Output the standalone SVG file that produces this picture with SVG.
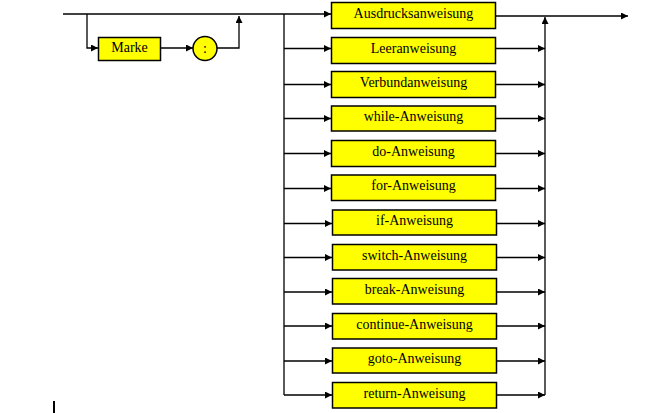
<svg xmlns="http://www.w3.org/2000/svg" width="658" height="413" viewBox="0 0 658 413">
<style>
.box{fill:#ffff00;stroke:#000;stroke-width:1.5}
.t{font-family:"Liberation Serif","Times New Roman",serif;font-size:14px;fill:#000;text-anchor:middle}
.ln{fill:none;stroke:#000;stroke-width:1.3}
</style>
<defs>
<marker id="ah" markerUnits="userSpaceOnUse" markerWidth="8" markerHeight="8" refX="7" refY="3.5" orient="auto">
<path d="M0,0 L7,3.5 L0,7 z" fill="#000"/>
</marker>
</defs>
<rect width="658" height="413" fill="#fff"/>
<g id="connectors">
<path class="ln" d="M63,14 H331" marker-end="url(#ah)"/>
<path class="ln" d="M87,14 V48 H98" marker-end="url(#ah)"/>
<path class="ln" d="M160,48 H193" marker-end="url(#ah)"/>
<path class="ln" d="M217,48 H239 V16" marker-end="url(#ah)"/>
<path class="ln" d="M284,14 V395"/>
<path class="ln" d="M284,48.5 H331" marker-end="url(#ah)"/>
<path class="ln" d="M284,84.5 H331" marker-end="url(#ah)"/>
<path class="ln" d="M284,118.5 H331" marker-end="url(#ah)"/>
<path class="ln" d="M284,153.5 H331" marker-end="url(#ah)"/>
<path class="ln" d="M284,188.5 H331" marker-end="url(#ah)"/>
<path class="ln" d="M284,223.5 H332" marker-end="url(#ah)"/>
<path class="ln" d="M284,257.5 H332" marker-end="url(#ah)"/>
<path class="ln" d="M284,292 H332" marker-end="url(#ah)"/>
<path class="ln" d="M284,326 H332" marker-end="url(#ah)"/>
<path class="ln" d="M284,361 H332" marker-end="url(#ah)"/>
<path class="ln" d="M284,395 H332" marker-end="url(#ah)"/>
<path class="ln" d="M496,16 H628" marker-end="url(#ah)"/>
<path class="ln" d="M545,395 V17" marker-end="url(#ah)"/>
<path class="ln" d="M496,48.5 H545" marker-end="url(#ah)"/>
<path class="ln" d="M496,84.5 H545" marker-end="url(#ah)"/>
<path class="ln" d="M496,118.5 H545" marker-end="url(#ah)"/>
<path class="ln" d="M496,153.5 H545" marker-end="url(#ah)"/>
<path class="ln" d="M496,188.5 H545" marker-end="url(#ah)"/>
<path class="ln" d="M496,223.5 H545" marker-end="url(#ah)"/>
<path class="ln" d="M496,257.5 H545" marker-end="url(#ah)"/>
<path class="ln" d="M496,292 H545" marker-end="url(#ah)"/>
<path class="ln" d="M496,326 H545" marker-end="url(#ah)"/>
<path class="ln" d="M496,361 H545" marker-end="url(#ah)"/>
<path class="ln" d="M496,395 H545" marker-end="url(#ah)"/>
</g>
<g id="marke"><rect class="box" x="98.5" y="37.5" width="62" height="23"/><text class="t" x="129.5" y="52">Marke</text></g>
<g id="colon"><circle class="box" cx="205" cy="48.5" r="12"/><text class="t" x="205" y="53">:</text></g>
<g id="n1"><rect class="box" x="331.5" y="2.5" width="164" height="26"/><text class="t" x="413.5" y="17.5">Ausdrucksanweisung</text></g>
<g id="n2"><rect class="box" x="331.5" y="37.5" width="164" height="26"/><text class="t" x="413.5" y="52.5">Leeranweisung</text></g>
<g id="n3"><rect class="box" x="331.5" y="71.5" width="164" height="26"/><text class="t" x="413.5" y="86.5">Verbundanweisung</text></g>
<g id="n4"><rect class="box" x="331.5" y="106" width="164" height="25"/><text class="t" x="413.5" y="121">while-Anweisung</text></g>
<g id="n5"><rect class="box" x="331.5" y="140.5" width="164" height="26"/><text class="t" x="413.5" y="155.5">do-Anweisung</text></g>
<g id="n6"><rect class="box" x="331.5" y="175" width="164" height="25.5"/><text class="t" x="413.5" y="190">for-Anweisung</text></g>
<g id="n7"><rect class="box" x="332.5" y="210" width="164" height="25"/><text class="t" x="414.5" y="225">if-Anweisung</text></g>
<g id="n8"><rect class="box" x="332.5" y="244.5" width="164" height="25.5"/><text class="t" x="414.5" y="259.5">switch-Anweisung</text></g>
<g id="n9"><rect class="box" x="332.5" y="278.5" width="164" height="25.5"/><text class="t" x="414.5" y="293.5">break-Anweisung</text></g>
<g id="n10"><rect class="box" x="332.5" y="313.5" width="164" height="25.5"/><text class="t" x="414.5" y="328.5">continue-Anweisung</text></g>
<g id="n11"><rect class="box" x="332.5" y="348" width="164" height="25"/><text class="t" x="414.5" y="363">goto-Anweisung</text></g>
<g id="n12"><rect class="box" x="332.5" y="382.5" width="164" height="25.5"/><text class="t" x="414.5" y="397.5">return-Anweisung</text></g>
<rect x="53" y="401" width="2" height="12" fill="#000"/>
</svg>
